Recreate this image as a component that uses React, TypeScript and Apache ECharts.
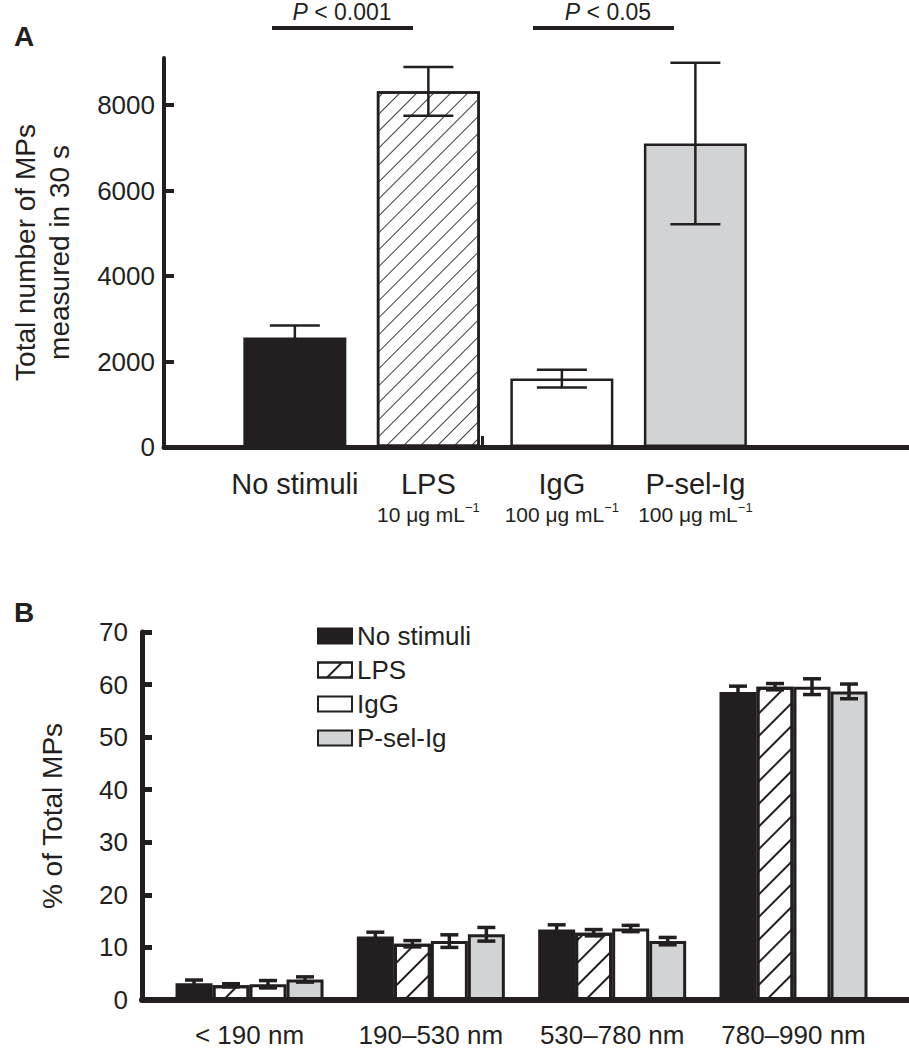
import React, { useEffect, useRef } from "react";
import * as echarts from "echarts";

// ---------- Panel A data ----------
const catsA = ["No stimuli", "LPS", "IgG", "P-sel-Ig"];
const doseA = ["", "10 μg mL", "100 μg mL", "100 μg mL"];
const posA = [1, 2, 3, 4];
const meanA = [2560, 8320, 1600, 7100];
const errA = [280, 570, 210, 1890];
const ticksA = [0, 2000, 4000, 6000, 8000];

// ---------- Panel B data ----------
const sizeCats = ["< 190 nm", "190–530 nm", "530–780 nm", "780–990 nm"];
const posB = [1, 2, 3, 4];
const seriesNamesB = ["No stimuli", "LPS", "IgG", "P-sel-Ig"];
const noStim = [3.2, 12.1, 13.4, 58.6];
const noStimErr = [0.6, 0.8, 0.9, 1.1];
const lps = [2.8, 10.7, 12.8, 59.6];
const lpsErr = [0.3, 0.6, 0.6, 0.6];
const igg = [3.0, 11.2, 13.6, 59.6];
const iggErr = [0.7, 1.2, 0.6, 1.5];
const psel = [3.9, 12.5, 11.2, 58.7];
const pselErr = [0.5, 1.3, 0.7, 1.4];
const ticksB = [0, 10, 20, 30, 40, 50, 60, 70];

const FONT = '"Liberation Sans", Arial, Helvetica, sans-serif';
const NARROW = '"Liberation Sans Narrow", "Liberation Sans", Arial, sans-serif';
const INK = "#231f20";
const GRAY = "#d1d3d4";

export default function App() {
  const ref = useRef<HTMLDivElement>(null);

  useEffect(() => {
    document.body.style.margin = "0";
    const chart = echarts.init(ref.current!, null, { renderer: "svg" });

    const hatchA = {
      color: "#3a3a3a",
      backgroundColor: "#ffffff",
      dashArrayX: [1, 0],
      dashArrayY: [1, 11],
      rotation: -Math.PI / 4,
      symbolSize: 1,
    };
    const hatchB = {
      color: "#231f20",
      backgroundColor: "#ffffff",
      dashArrayX: [1, 0],
      dashArrayY: [1.5, 14],
      rotation: -Math.PI / 4,
      symbolSize: 1,
    };

    const stylesA = [
      { color: INK, borderColor: INK, borderWidth: 0 },
      { color: "#ffffff", borderColor: INK, borderWidth: 2.5, decal: hatchA },
      { color: "#ffffff", borderColor: INK, borderWidth: 2.5 },
      { color: GRAY, borderColor: INK, borderWidth: 2.5 },
    ];
    const stylesB = [
      { color: INK, borderColor: INK, borderWidth: 3 },
      { color: "#ffffff", borderColor: INK, borderWidth: 3, decal: hatchB },
      { color: "#ffffff", borderColor: INK, borderWidth: 3 },
      { color: GRAY, borderColor: INK, borderWidth: 3 },
    ];
    const valuesB = [noStim, lps, igg, psel];
    const errsB = [noStimErr, lpsErr, iggErr, pselErr];
    const barWB = 37;

    const errSeries = (
      xi: number,
      yi: number,
      pos: number[],
      mean: number[],
      err: number[],
      offset: number,
      capW: number,
      lw: number
    ) => ({
      type: "custom",
      xAxisIndex: xi,
      yAxisIndex: yi,
      silent: true,
      z: 5,
      data: pos.map((p, i) => [p, mean[i] - err[i], mean[i] + err[i]]),
      renderItem: (_params: any, api: any) => {
        const lo = api.coord([api.value(0), api.value(1)]);
        const hi = api.coord([api.value(0), api.value(2)]);
        const x = lo[0] + offset;
        const st = { stroke: INK, lineWidth: lw };
        return {
          type: "group",
          children: [
            { type: "line", shape: { x1: x, y1: lo[1], x2: x, y2: hi[1] }, style: st },
            { type: "line", shape: { x1: x - capW / 2, y1: hi[1], x2: x + capW / 2, y2: hi[1] }, style: st },
            { type: "line", shape: { x1: x - capW / 2, y1: lo[1], x2: x + capW / 2, y2: lo[1] }, style: st },
          ],
        };
      },
    });

    const pText = (x: number, rest: string) => ({
      type: "text",
      x,
      y: 12,
      style: {
        text: `{i|P}{n|${rest}}`,
        align: "center",
        verticalAlign: "middle",
        rich: {
          i: { fontSize: 23, fontStyle: "italic", fontFamily: NARROW, fill: INK },
          n: { fontSize: 23, fontFamily: NARROW, fill: INK },
        },
      },
    });

    const option: any = {
      animation: false,
      backgroundColor: "#ffffff",
      textStyle: { fontFamily: FONT, color: INK },
      grid: [
        { left: 142, top: 58, width: 767, height: 389 },
        { left: 142, top: 632, width: 767, height: 368 },
      ],
      xAxis: [
        {
          gridIndex: 0,
          type: "value",
          min: 0.02,
          max: 5.6,
          splitLine: { show: false },
          axisTick: { show: false },
          axisLine: { show: true, onZero: false, lineStyle: { color: INK, width: 5 } },
          axisLabel: {
            customValues: posA,
            margin: 20,
            formatter: (v: number) => {
              const i = posA.indexOf(v);
              if (i < 0) return "";
              return doseA[i]
                ? `{m|${catsA[i]}}\n{n|${doseA[i]}}{s|−1}`
                : `{m|${catsA[i]}}`;
            },
            rich: {
              m: { fontSize: 29, lineHeight: 34, fontFamily: FONT, color: INK },
              n: { fontSize: 21, lineHeight: 26, fontFamily: FONT, color: INK },
              s: { fontSize: 13, lineHeight: 13, verticalAlign: "top", fontFamily: FONT, color: INK },
            },
          },
        },
        {
          gridIndex: 1,
          type: "value",
          min: 0.407,
          max: 4.637,
          splitLine: { show: false },
          axisTick: { show: false },
          axisLine: { show: true, onZero: false, lineStyle: { color: INK, width: 6 } },
          axisLabel: {
            customValues: posB,
            margin: 22,
            fontSize: 26,
            fontFamily: FONT,
            color: INK,
            formatter: (v: number) => {
              const i = posB.indexOf(v);
              return i < 0 ? "" : sizeCats[i];
            },
          },
        },
      ],
      yAxis: [
        {
          gridIndex: 0,
          type: "value",
          min: 0,
          max: 9100,
          splitLine: { show: false },
          axisLine: { show: true, lineStyle: { color: INK, width: 4 } },
          axisTick: { show: true, inside: true, length: 10, customValues: ticksA, lineStyle: { color: INK, width: 4 } },
          axisLabel: {
            customValues: ticksA,
            fontSize: 26,
            margin: 9,
            fontFamily: FONT,
            color: INK,
            formatter: (v: number) => String(v),
          },
          name: "Total number of MPs\nmeasured in 30 s",
          nameLocation: "middle",
          nameRotate: 90,
          nameGap: 88,
          nameTextStyle: { fontSize: 28, lineHeight: 34, fontFamily: FONT, color: INK },
        },
        {
          gridIndex: 1,
          type: "value",
          min: 0,
          max: 70,
          interval: 10,
          splitLine: { show: false },
          axisLine: { show: true, lineStyle: { color: INK, width: 5 } },
          axisTick: { show: true, inside: true, length: 10, customValues: ticksB, lineStyle: { color: INK, width: 5 } },
          axisLabel: {
            customValues: ticksB,
            fontSize: 26,
            margin: 14,
            fontFamily: FONT,
            color: INK,
            formatter: (v: number) => String(v),
          },
          name: "% of Total MPs",
          nameLocation: "middle",
          nameRotate: 90,
          nameGap: 76,
          nameTextStyle: { fontSize: 28, fontFamily: FONT, color: INK },
        },
      ],
      legend: {
        data: seriesNamesB,
        orient: "vertical",
        left: 312,
        top: 618,
        icon: "rect",
        itemWidth: 34,
        itemHeight: 15,
        itemGap: 8,
        textStyle: { fontSize: 26, lineHeight: 26, fontFamily: FONT, color: INK },
        selectedMode: false,
      },
      series: [
        {
          type: "bar",
          name: "countA",
          xAxisIndex: 0,
          yAxisIndex: 0,
          barWidth: 103,
          z: 2,
          data: posA.map((p, i) => ({ value: [p, meanA[i]], itemStyle: stylesA[i] })),
        },
        errSeries(0, 0, posA, meanA, errA, 0, 50, 2.5),
        ...seriesNamesB.map((name, s) => ({
          type: "bar",
          name,
          xAxisIndex: 1,
          yAxisIndex: 1,
          barWidth: barWB,
          barGap: "0%",
          z: 2,
          itemStyle: stylesB[s],
          data: posB.map((p, i) => [p, valuesB[s][i]]),
        })),
        ...seriesNamesB.map((_n, s) =>
          errSeries(1, 1, posB, valuesB[s], errsB[s], (s - 1.5) * barWB, 18, 3.5)
        ),
      ],
      graphic: [
        { type: "text", left: 14, top: 22, style: { text: "A", fontSize: 28, fontWeight: "bold", fontFamily: FONT, fill: INK } },
        { type: "text", left: 14, top: 598, style: { text: "B", fontSize: 28, fontWeight: "bold", fontFamily: FONT, fill: INK } },
        pText(342, " < 0.001"),
        pText(608, " < 0.05"),
        { type: "line", shape: { x1: 272, y1: 28, x2: 413, y2: 28 }, style: { stroke: INK, lineWidth: 4 } },
        { type: "line", shape: { x1: 533, y1: 28, x2: 674, y2: 28 }, style: { stroke: INK, lineWidth: 4 } },
        { type: "rect", shape: { x: 481, y: 436, width: 3, height: 11 }, style: { fill: INK } },
      ],
    };

    chart.setOption(option);
    return () => chart.dispose();
  }, []);

  return <div ref={ref} style={{ width: 909, height: 1050 }} />;
}
